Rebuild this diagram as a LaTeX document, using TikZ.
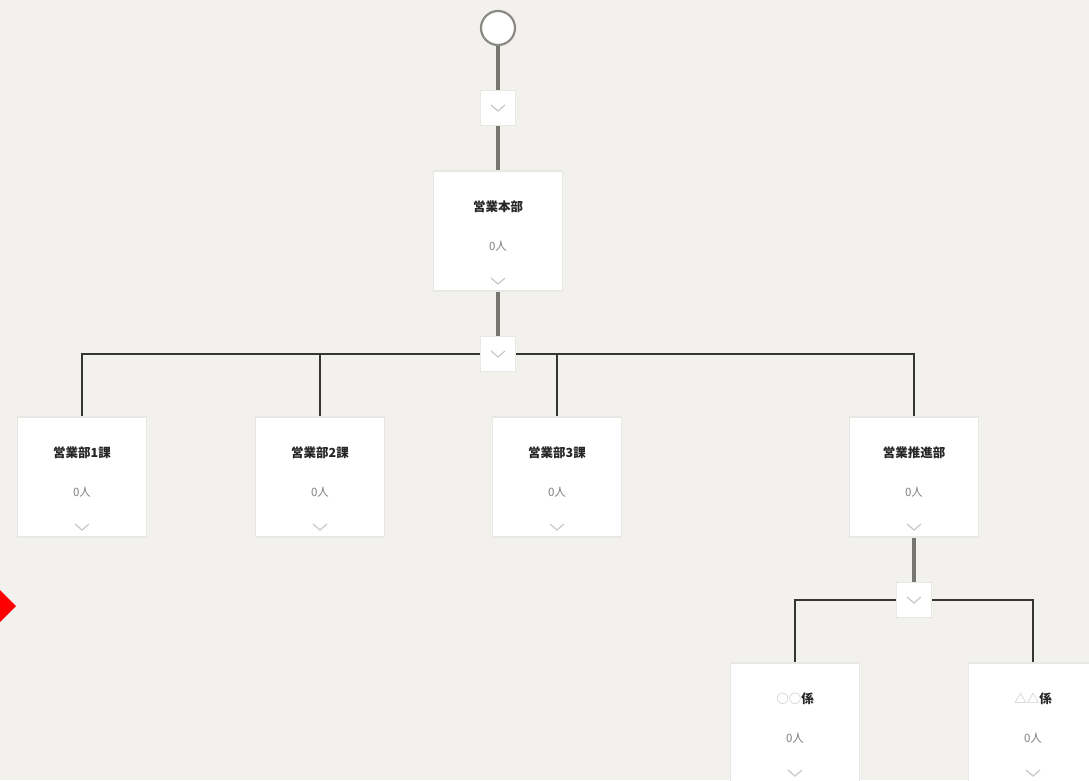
\documentclass[tikz,border=0pt]{standalone}
\usepackage{fontspec}
\usepackage{xcolor}
\newfontfamily\jpfont{Noto Sans CJK JP}
\usetikzlibrary{positioning}

\definecolor{bgcol}{HTML}{F2F1EE}
\definecolor{boxline}{HTML}{E7E7E4}
\definecolor{stemcol}{HTML}{77756F}
\definecolor{buscol}{HTML}{353535}
\definecolor{chevcol}{HTML}{C8C8C8}
\definecolor{countcol}{HTML}{7E7E7E}

\tikzset{
	unit/.style={draw=boxline, line width=1.2, fill=white, minimum width=129, minimum height=120, inner sep=0},
	toggle/.style={draw=boxline, line width=1.2, fill=white, minimum size=35, inner sep=0},
	unittitle/.style={font=\jpfont\bfseries\fontsize{12.5}{14}\selectfont, text=black!85, inner sep=0},
	unitcount/.style={font=\jpfont\fontsize{11.5}{13}\selectfont, text=countcol, inner sep=0},
	stem/.style={draw=stemcol, line width=3.2},
	bus/.style={draw=buscol, line width=2},
	chevline/.style={draw=chevcol, line width=1.2},
}

% chevron under a toggle or a unit
\newcommand{\chev}[1]{\draw[chevline] ([shift={(-7,-3)}]#1) -- ++(7,6) -- ++(7,-6);}

% one unit box: name, x, y (centre), title
\newcommand{\orgunit}[4]{%
	\node[unit] (#1) at (#2,#3) {};
	\node[unittitle] (#1-title) at ([yshift=24]#1.center) {#4};
	\node[unitcount] (#1-count) at ([yshift=-15]#1.center) {0人};
	\coordinate (#1-chev) at ([yshift=-50]#1.center);
	\chev{#1-chev}}

\begin{document}
\begin{tikzpicture}[x=1pt,y=-1pt]
		% Frame
		\useasboundingbox (0,0) rectangle (1089,780);
		\clip (0,0) rectangle (1089,780);
		\fill[bgcol] (0,0) rectangle (1089,780);

		% Marker at the left edge
		\fill[red] (-16,606) -- (0,590) -- (16,606) -- (0,622) -- cycle;

		% Start and head office
		\node[circle, draw=stemcol!85, line width=2.2, fill=white, minimum size=34, inner sep=0] (start) at (498,28) {};
		\node[toggle] (tg1) at (498,108) {};
		\chev{tg1.center}
		\orgunit{hq}{498}{231}{営業本部}
		\node[toggle] (tg2) at (498,354) {};
		\chev{tg2.center}

		\draw[stem] (start) -- (tg1);
		\draw[stem] (tg1) -- (hq);
		\draw[stem] (hq) -- (tg2);

		% Sections
		\orgunit{sec1}{82}{477}{営業部1課}
		\orgunit{sec2}{320}{477}{営業部2課}
		\orgunit{sec3}{557}{477}{営業部3課}
		\orgunit{promo}{914}{477}{営業推進部}

		\draw[bus] (tg2.west) -| (sec1);
		\draw[bus] (tg2.west) -| (sec2);
		\draw[bus] (tg2.east) -| (sec3);
		\draw[bus] (tg2.east) -| (promo);

		% Teams under promotion
		\node[toggle] (tg3) at (914,600) {};
		\chev{tg3.center}
		\draw[stem] (promo) -- (tg3);

		\orgunit{team1}{795}{723}{{\color{chevcol}○○}係}
		\orgunit{team2}{1033}{723}{{\color{chevcol}△△}係}

		\draw[bus] (tg3.west) -| (team1);
		\draw[bus] (tg3.east) -| (team2);
\end{tikzpicture}
\end{document}
